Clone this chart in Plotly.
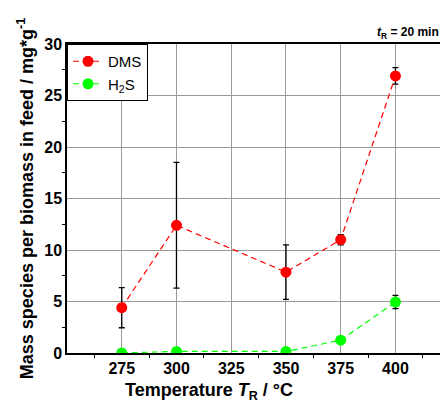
import plotly.graph_objects as go

temps = [275, 300, 350, 375, 400]
dms = [4.4, 12.4, 7.85, 11.0, 26.9]
dms_err = [1.95, 6.1, 2.65, 0.5, 0.8]
h2s = [0.0, 0.15, 0.15, 1.25, 4.95]
h2s_err = [0.0, 0.0, 0.0, 0.0, 0.65]
x_ticks = [275, 300, 325, 350, 375, 400]
y_ticks = [0, 5, 10, 15, 20, 25, 30]

FONT = "Liberation Sans, Arial, sans-serif"

fig = go.Figure()
fig.add_trace(go.Scatter(
    x=temps, y=dms, name="DMS", mode="lines+markers",
    line=dict(color="#FF0000", width=1.2, dash="6px,4px"),
    marker=dict(color="#FF0000", size=11),
    error_y=dict(type="data", array=dms_err, visible=True, color="black", thickness=1.3, width=3),
))
fig.add_trace(go.Scatter(
    x=temps, y=h2s, name="H<sub>2</sub>S", mode="lines+markers",
    line=dict(color="#00FF00", width=1.2, dash="6px,4px"),
    marker=dict(color="#00FF00", size=11),
    error_y=dict(type="data", array=h2s_err, visible=True, color="black", thickness=1.3, width=3),
))

# page body has an 8px default margin, so the figure is offset by 8px
fig.update_layout(
    width=440, height=396,
    margin=dict(l=59, r=0, t=36, b=51),
    plot_bgcolor="white", paper_bgcolor="white",
    font=dict(family=FONT, color="black"),
    showlegend=True,
    legend=dict(x=0, y=1, xanchor="left", yanchor="top",
                bordercolor="black", borderwidth=1, bgcolor="white",
                font=dict(size=15, family=FONT), tracegroupgap=0,
                itemwidth=30),
    annotations=[
        dict(text="<b><i>t</i><sub>R</sub> = 20 min</b>", x=1, y=1,
             xref="paper", yref="paper", xanchor="right", yanchor="bottom",
             showarrow=False, font=dict(size=12, family=FONT),
             xshift=-7, yshift=1),
        dict(text="<b>Temperature <i>T</i><sub>R</sub> / °C</b>", x=0.373, y=0,
             xref="paper", yref="paper", xanchor="center", yanchor="middle",
             showarrow=False, font=dict(size=18, family=FONT), yshift=-38),
    ],
)
fig.update_xaxes(
    range=[250, 424], tickvals=x_ticks, ticktext=[f"<b>{v}</b>" for v in x_ticks],
    automargin=False,
    tickfont=dict(size=16, family=FONT),
    showgrid=True, gridcolor="#999999", gridwidth=1,
    showline=True, linecolor="black", linewidth=1.5, mirror=True,
    ticks="", zeroline=False,
    minor=dict(tickvals=[262.5, 287.5, 312.5, 337.5, 362.5, 387.5, 412.5], ticks="outside", ticklen=3, tickcolor="black", showgrid=False),
)
fig.update_yaxes(
    range=[0, 30], tickvals=y_ticks, ticktext=[f"<b>{v}</b>" for v in y_ticks],
    automargin=False,
    tickfont=dict(size=16, family=FONT),
    title=dict(text="<b>Mass species per biomass in feed / mg*g<sup>-1</sup></b>", font=dict(size=18, family=FONT), standoff=6),
    showgrid=True, gridcolor="#999999", gridwidth=1,
    showline=True, linecolor="black", linewidth=1.5, mirror=True,
    ticks="", zeroline=False,
    minor=dict(tickvals=[2.5, 7.5, 12.5, 17.5, 22.5, 27.5], ticks="outside", ticklen=3, tickcolor="black", showgrid=False),
)

fig.write_html("out.html")
